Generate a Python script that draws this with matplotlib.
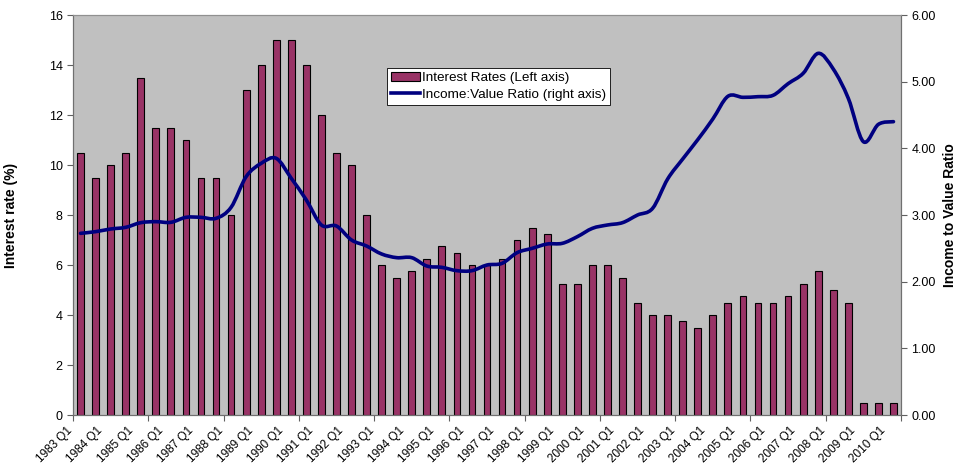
import matplotlib
matplotlib.use("Agg")
import matplotlib.pyplot as plt
from matplotlib.path import Path
from matplotlib.patches import PathPatch, Patch
from matplotlib.lines import Line2D
import numpy as np

plt.rcParams['font.family'] = ['Liberation Sans', 'DejaVu Sans']

# Half-yearly interest rates (left axis), 1983 Q1 .. 2010 Q1
interest_rates = [10.5, 9.5, 10, 10.5, 13.5, 11.5, 11.5, 11, 9.5, 9.5,
                  8, 13, 14, 15, 15, 14, 12, 10.5, 10, 8,
                  6, 5.5, 5.75, 6.25, 6.75, 6.5, 6, 6, 6.25, 7,
                  7.5, 7.25, 5.25, 5.25, 6, 6, 5.5, 4.5, 4, 4,
                  3.75, 3.5, 4, 4.5, 4.75, 4.5, 4.5, 4.75, 5.25, 5.75,
                  5, 4.5, 0.5, 0.5, 0.5]

# Income:Value ratio (right axis), same periods
income_value = [2.725, 2.75, 2.79, 2.815, 2.885, 2.90, 2.89, 2.965, 2.965, 2.95,
                3.115, 3.575, 3.775, 3.85, 3.55, 3.225, 2.85, 2.835, 2.625, 2.535,
                2.415, 2.36, 2.36, 2.235, 2.215, 2.165, 2.165, 2.25, 2.275, 2.435,
                2.50, 2.565, 2.575, 2.675, 2.80, 2.85, 2.885, 3.0, 3.10, 3.54,
                3.84, 4.13, 4.44, 4.78, 4.765, 4.775, 4.795, 4.97, 5.125, 5.425,
                5.19, 4.75, 4.10, 4.36, 4.40]

year_labels = [f"{y} Q1" for y in range(1983, 2011)]

fig = plt.figure(figsize=(9.56, 4.70), dpi=100)
ax = fig.add_axes([73/956, 55/470, 828/956, 400/470])
ax.set_facecolor('#C0C0C0')

n = len(interest_rates)
x = np.arange(n)
bars = ax.bar(x, interest_rates, width=0.45, color='#993366',
              edgecolor='black', linewidth=0.8, zorder=2)
ax.set_xlim(-0.5, n - 0.5)
ax.set_ylim(0, 16)
ax.set_yticks(range(0, 17, 2))

ax.set_xticks(np.arange(-0.5, n, 5))
ax.set_xticklabels([])
ax.set_xticks(np.arange(len(year_labels)) * 2 - 0.35, minor=True)
ax.set_xticklabels(year_labels, minor=True, rotation=45, ha='right', fontsize=8.5)
ax.tick_params(axis='x', which='minor', length=0, pad=7)
ax.tick_params(axis='x', which='major', length=4, direction='out', color='#606060')
ax.tick_params(axis='y', labelsize=9, length=4, color='#606060')
ax.set_ylabel('Interest rate (%)', fontsize=10, fontweight='bold')
ax.yaxis.set_label_coords(-0.066, 0.5)

ax2 = ax.twinx()
ax2.set_ylim(0, 6)
ax2.set_yticks(range(0, 7))
ax2.set_yticklabels([f"{v:.2f}" for v in range(0, 7)])
ax2.tick_params(axis='y', labelsize=9, length=4, color='#606060')
ax2.set_ylabel('Income to Value Ratio', fontsize=10, fontweight='bold')
ax2.yaxis.set_label_coords(1.051, 0.5)

for a in (ax, ax2):
    a.spines['top'].set_color('#909090')
    a.spines['left'].set_color('#707070')
    a.spines['right'].set_color('#707070')
    a.spines['bottom'].set_color('#707070')

# smoothed line (Bezier through data points, like Excel smoothing)
pts = np.column_stack([x, income_value]).astype(float)
verts = [pts[0]]
codes = [Path.MOVETO]
for i in range(len(pts) - 1):
    p0 = pts[i - 1] if i > 0 else pts[i]
    p1 = pts[i]
    p2 = pts[i + 1]
    p3 = pts[i + 2] if i + 2 < len(pts) else pts[i + 1]
    c1 = p1 + (p2 - p0) / 6.0
    c2 = p2 - (p3 - p1) / 6.0
    verts += [c1, c2, p2]
    codes += [Path.CURVE4] * 3
path = Path(verts, codes)
ax2.add_patch(PathPatch(path, facecolor='none', edgecolor='#000080',
                        linewidth=2.6, capstyle='round', joinstyle='round',
                        transform=ax2.transData, zorder=3))

handles = [Patch(facecolor='#993366', edgecolor='black', linewidth=0.8),
           Line2D([0], [0], color='#000080', linewidth=2.6)]
leg = ax2.legend(handles, ['Interest Rates (Left axis)', 'Income:Value Ratio (right axis)'],
                 loc='upper left', bbox_to_anchor=(0.379, 0.8675), borderaxespad=0,
                 fontsize=9.7, frameon=True, fancybox=False, framealpha=1,
                 edgecolor='black', handlelength=2.15, handletextpad=0.15,
                 labelspacing=0.3, borderpad=0.3)
leg.get_frame().set_linewidth(0.6)

fig.savefig('out.png', dpi=100)
